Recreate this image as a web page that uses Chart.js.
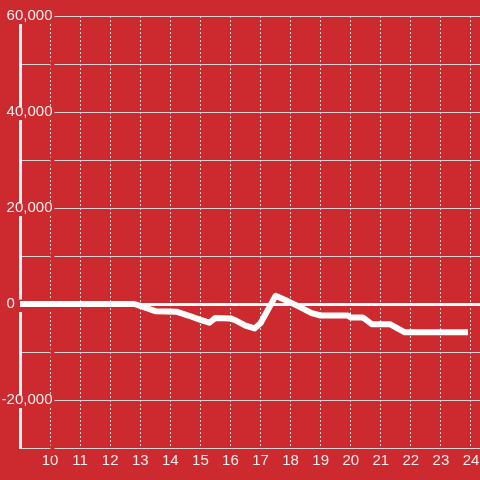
<!DOCTYPE html>
<html>
<head>
<meta charset="utf-8">
<script src="https://cdn.jsdelivr.net/npm/chart.js@4/dist/chart.umd.min.js"></script>
<style>
  html, body { margin: 0; padding: 0; background: #cc2a2f; }
  #wrap { width: 480px; height: 480px; }
</style>
</head>
<body>
<div id="wrap"><canvas id="c" width="480" height="480"></canvas></div>
<script>
// ---- data ----
const hours  = [8.8, 12.8, 13.0, 13.5, 14.2, 14.6, 15.0, 15.3, 15.5, 16.0, 16.2, 16.5, 16.8, 17.0, 17.5, 17.9, 18.3, 18.7, 19.0, 19.9, 20.0, 20.4, 20.7, 21.3, 21.8, 23.9];
const values = [0, 0, -400, -1500, -1600, -2400, -3300, -3900, -2900, -3000, -3500, -4500, -5100, -4000, 1700, 600, -600, -1900, -2400, -2400, -2800, -2800, -4200, -4200, -5900, -5900];
const xTickValues = [10, 11, 12, 13, 14, 15, 16, 17, 18, 19, 20, 21, 22, 23, 24];
const yTickValues = [-30000, -20000, -10000, 0, 10000, 20000, 30000, 40000, 50000, 60000];
const yLabeledValues = [-20000, 0, 20000, 40000, 60000];

const BG = '#cc2a2f';
const GRID = '#d4d4d4';
const TEXT = '#eeeeee';
const FONT = 'Liberation Sans, Arial, sans-serif';

const points = hours.map((h, i) => ({ x: h, y: values[i] }));

function yLabel(v) {
  if (!yLabeledValues.includes(v)) return '';
  const s = v.toLocaleString('en-US');
  // the zero label sits at the far left of the axis in the reference
  return v === 0 ? s + '\u0020'.repeat(9) : s;
}

new Chart(document.getElementById('c'), {
  type: 'line',
  data: {
    datasets: [{
      data: points,
      borderColor: '#ffffff',
      borderWidth: 6,
      tension: 0,
      pointRadius: 0,
      borderJoinStyle: 'round',
      borderCapStyle: 'butt',
      fill: false
    }]
  },
  options: {
    responsive: false,
    animation: false,
    events: [],
    layout: { padding: { left: 20, top: 16, right: 0, bottom: 0 } },
    plugins: { legend: { display: false }, tooltip: { enabled: false } },
    scales: {
      x: {
        type: 'linear',
        min: 9,
        max: 24.3,
        afterBuildTicks: s => { s.ticks = xTickValues.map(v => ({ value: v })); },
        afterFit: s => { s.height = 32; s.paddingLeft = 0; s.paddingRight = 0; },
        grid: { color: GRID, lineWidth: 1, drawTicks: false },
        border: { display: true, color: GRID, width: 1, dash: [2, 2] },
        ticks: {
          color: TEXT,
          padding: 4,
          maxRotation: 0,
          autoSkip: false,
          font: { family: FONT, size: 15 },
          callback: v => String(v)
        }
      },
      y: {
        type: 'linear',
        min: -30000,
        max: 60000,
        afterBuildTicks: s => { s.ticks = yTickValues.map(v => ({ value: v })); },
        afterFit: s => { s.width = 0; },
        grid: {
          drawTicks: false,
          color: c => (c.tick && c.tick.value === 0) ? '#ffffff' : GRID,
          lineWidth: c => (c.tick && c.tick.value === 0) ? 3 : 1
        },
        border: { display: true, color: '#f2f2f2', width: 3 },
        ticks: {
          color: TEXT,
          mirror: true,
          crossAlign: 'far',
          padding: -18.4,
          autoSkip: false,
          showLabelBackdrop: true,
          backdropColor: BG,
          backdropPadding: { left: 2, right: 2, top: 0, bottom: 3.5 },
          font: { family: FONT, size: 15, lineHeight: 0.6 },
          callback: v => yLabel(v)
        }
      }
    }
  }
});
</script>
</body>
</html>
